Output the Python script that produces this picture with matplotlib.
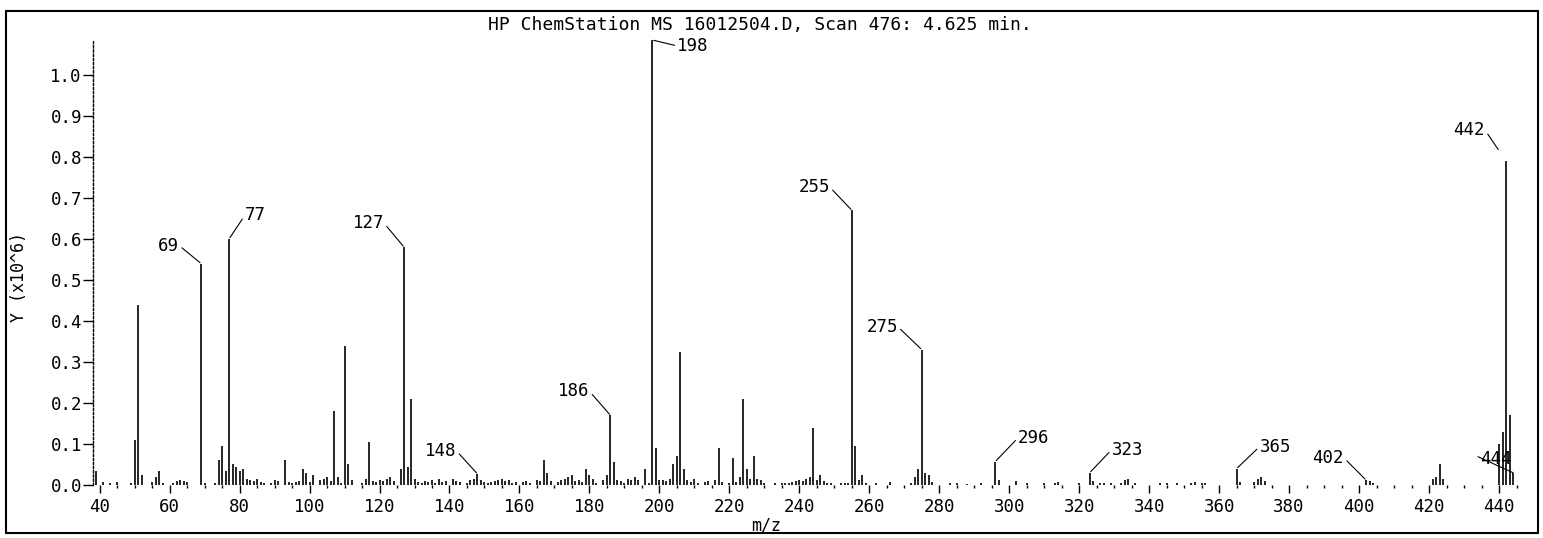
import numpy as np
import matplotlib.pyplot as plt
from matplotlib.patches import Rectangle
from matplotlib.ticker import MultipleLocator

# m/z and abundance (x10^6)
mz = [39, 41, 43, 45, 49, 50, 51, 52, 55, 56, 57, 58, 61, 62, 63, 64, 65,
      69, 70, 73, 74, 75, 76, 77, 78, 79, 80, 81, 82, 83, 84, 85, 86, 87,
      89, 90, 91, 93, 94, 95, 96, 97, 98, 99, 100, 101, 103, 104, 105, 106,
      107, 108, 109, 110, 111, 112, 115, 116, 117, 118, 119, 120, 121, 122,
      123, 124, 126, 127, 128, 129, 130, 131, 132, 133, 134, 135, 136, 137,
      138, 139, 141, 142, 143, 145, 146, 147, 148, 149, 150, 151, 152, 153,
      154, 155, 156, 157, 158, 159, 161, 162, 163, 165, 166, 167, 168, 169,
      171, 172, 173, 174, 175, 176, 177, 178, 179, 180, 181, 182, 184, 185,
      186, 187, 188, 189, 190, 191, 192, 193, 194, 196, 197, 198, 199, 200,
      201, 202, 203, 204, 205, 206, 207, 208, 209, 210, 211, 213, 214, 216,
      217, 218, 220, 221, 222, 223, 224, 225, 226, 227, 228, 229, 230, 233,
      235, 236, 237, 238, 239, 240, 241, 242, 243, 244, 245, 246, 247, 248,
      249, 252, 253, 254, 255, 256, 257, 258, 259, 262, 266, 272, 273, 274,
      275, 276, 277, 278, 283, 285, 288, 292, 296, 297, 302, 305, 310, 313,
      314, 320, 323, 324, 326, 327, 329, 332, 333, 334, 336, 343, 345, 348,
      352, 353, 355, 356, 365, 366, 370, 371, 372, 373, 402, 403, 404, 421,
      422, 423, 424, 440, 441, 442, 443, 444]
abund = [0.035, 0.008, 0.006, 0.008, 0.006, 0.11, 0.44, 0.025, 0.008, 0.02,
         0.035, 0.005, 0.006, 0.01, 0.012, 0.01, 0.008,
         0.54, 0.005, 0.006, 0.06, 0.095, 0.035, 0.60, 0.05, 0.045, 0.035,
         0.04, 0.015, 0.012, 0.01, 0.015, 0.008, 0.006,
         0.004, 0.012, 0.01, 0.06, 0.008, 0.004, 0.008, 0.01, 0.04, 0.03,
         0.008, 0.025, 0.012, 0.015, 0.02, 0.01,
         0.18, 0.02, 0.004, 0.34, 0.05, 0.012, 0.005, 0.015, 0.105, 0.01,
         0.008, 0.012, 0.01, 0.015,
         0.02, 0.01, 0.04, 0.58, 0.045, 0.21, 0.015, 0.008, 0.006, 0.01,
         0.008, 0.012, 0.006, 0.015,
         0.008, 0.01, 0.015, 0.01, 0.008, 0.006, 0.012, 0.015, 0.027, 0.012,
         0.008, 0.006, 0.008, 0.01,
         0.012, 0.015, 0.01, 0.012, 0.006, 0.008, 0.008, 0.01, 0.006, 0.012,
         0.01, 0.06, 0.03, 0.01,
         0.008, 0.012, 0.015, 0.02, 0.025, 0.01, 0.012, 0.008, 0.038, 0.025,
         0.015, 0.006, 0.012, 0.025,
         0.17, 0.055, 0.012, 0.01, 0.006, 0.015, 0.012, 0.02, 0.012, 0.04,
         0.005, 1.085, 0.09, 0.012,
         0.012, 0.01, 0.015, 0.05, 0.07, 0.325, 0.04, 0.012, 0.008, 0.015,
         0.006, 0.008, 0.01, 0.012,
         0.09, 0.008, 0.006, 0.065, 0.008, 0.02, 0.21, 0.04, 0.015, 0.07,
         0.015, 0.012, 0.006, 0.006,
         0.004, 0.006, 0.006, 0.008, 0.01, 0.012, 0.01, 0.015, 0.02, 0.14,
         0.012, 0.025, 0.01, 0.006,
         0.005, 0.004, 0.006, 0.005, 0.67, 0.095, 0.012, 0.025, 0.006, 0.005,
         0.008, 0.006, 0.02, 0.04,
         0.33, 0.03, 0.025, 0.008, 0.004, 0.005, 0.003, 0.004, 0.057, 0.012,
         0.01, 0.005, 0.004, 0.006,
         0.008, 0.004, 0.03, 0.01, 0.006, 0.004, 0.005, 0.006, 0.012, 0.015,
         0.004, 0.005, 0.004, 0.006,
         0.005, 0.008, 0.006, 0.005, 0.04, 0.008, 0.008, 0.015, 0.02, 0.01,
         0.012, 0.01, 0.006, 0.015,
         0.02, 0.05, 0.015, 0.1, 0.13, 0.79, 0.17, 0.03]

# labelled peaks: m/z, text offset (px) from peak top
lab_mz = [69, 77, 127, 198, 255, 275, 186, 148, 296, 323, 365, 402, 442]
lab_off = [(-22, 18), (16, 24), (-20, 24), (25, -6), (-22, 23), (-24, 23),
           (-21, 24), (-21, 23), (23, 24), (22, 23), (23, 22), (-22, 22),
           (-21, 31)]

title = "HP ChemStation MS 16012504.D, Scan 476: 4.625 min."
mono = "DejaVu Sans Mono"
fs = 12.5

fig = plt.figure(figsize=(15.43, 5.38), dpi=100)
ax = fig.add_axes([93 / 1543, 53 / 538, 1427 / 1543, 445 / 538])

ax.vlines(mz, 0, abund, color="black", lw=1.2)

ax.set_xlim(38.1, 446)
ax.set_ylim(0, 1.085)

for s in ["top", "right", "bottom"]:
    ax.spines[s].set_visible(False)
ax.spines["left"].set_linestyle((0, (1.6, 1.4)))
ax.spines["left"].set_linewidth(1.0)

ax.xaxis.set_minor_locator(MultipleLocator(5))
ax.set_xticks(np.arange(40, 441, 20))
ax.yaxis.set_major_locator(MultipleLocator(0.1))
ax.yaxis.set_major_formatter(plt.FuncFormatter(lambda v, p: f"{v:.1f}"))
ax.tick_params(axis="x", which="major", direction="out", length=6, width=1,
               pad=3, labelsize=fs)
ax.tick_params(axis="x", which="minor", direction="out", length=2.5, width=1)
ax.tick_params(axis="y", which="major", direction="out", length=7, width=1,
               pad=1, labelsize=fs)
for t in ax.get_xticklabels() + ax.get_yticklabels():
    t.set_family(mono)

ab = dict(zip(mz, abund))
for m, (dx, dy) in zip(lab_mz, lab_off):
    side = "left" if dx > 0 else "right"
    rel = (0, 0.5) if dx > 0 else (1, 0.5)
    shrink = 10 if m == 442 else 1
    ax.annotate(str(m), xy=(m, ab[m]), xytext=(dx, dy),
                textcoords="offset pixels", ha=side, va="center",
                family=mono, fontsize=fs,
                arrowprops=dict(arrowstyle="-", lw=0.8, color="black",
                                shrinkA=0, shrinkB=shrink, relpos=rel))

# 444: the leader line runs through its own label
ax.annotate("444", xy=(444, ab[444]), xytext=(-33, 14),
            textcoords="offset pixels", ha="left", va="center",
            family=mono, fontsize=fs)
ax.annotate("", xy=(444, ab[444]), xytext=(-35, 16),
            textcoords="offset pixels",
            arrowprops=dict(arrowstyle="-", lw=0.8, color="black",
                            shrinkA=0, shrinkB=0))

fig.text(760 / 1543, 1 - 25 / 538, title, ha="center", va="center",
         family=mono, fontsize=13)
fig.text(19 / 1543, 1 - 277 / 538, "Y (x10^6)", rotation=90, ha="center",
         va="center", family=mono, fontsize=12)
fig.text(766 / 1543, 1 - 526 / 538, "m/z", ha="center", va="center",
         family=mono, fontsize=12)

fig.patches.append(Rectangle((6 / 1543, 5 / 538), 1532 / 1543, 522 / 538,
                             transform=fig.transFigure, fill=False,
                             lw=1.5, ec="black"))

fig.savefig("out.png", dpi=100)
